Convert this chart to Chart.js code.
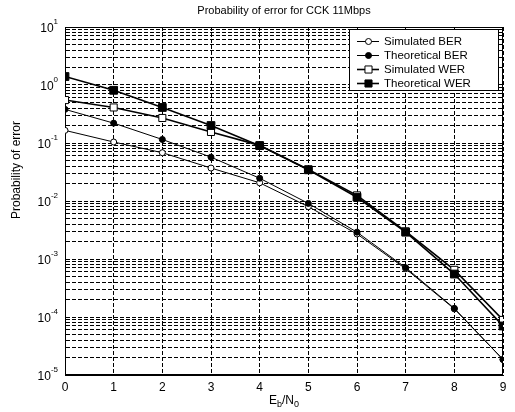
<!DOCTYPE html>
<html><head><meta charset="utf-8">
<script src="https://cdn.jsdelivr.net/npm/chart.js@4.4.0/dist/chart.umd.min.js"></script>
<style>html,body{margin:0;padding:0;background:#fff}canvas{display:block}</style>
</head><body>
<canvas id="c" width="515" height="412" style="width:515px;height:412px"></canvas>
<script>
// ---- data ----
const ebn0 = [0, 1, 2, 3, 4, 5, 6, 7, 8, 9];
const simBER  = [0.165, 0.104, 0.068, 0.037, 0.0206, 0.0080, 0.0027, 0.00068, 0.000138, 0.0000185];
const theoBER = [0.38, 0.22, 0.115, 0.057, 0.0247, 0.0091, 0.0029, 0.00071, 0.000141, 0.0000185];
const simWER  = [0.55, 0.41, 0.27, 0.155, 0.091, 0.035, 0.0125, 0.0030, 0.00065, 0.000089];
const theoWER = [1.4, 0.81, 0.41, 0.20, 0.090, 0.0345, 0.0116, 0.0029, 0.00055, 0.000070];
const seriesNames = ['Simulated BER', 'Theoretical BER', 'Simulated WER', 'Theoretical WER'];
const xTickValues = [0, 1, 2, 3, 4, 5, 6, 7, 8, 9];
const yDecadeExps = [-5, -4, -3, -2, -1, 0, 1];
const titleText = 'Probability of error for CCK 11Mbps';
const yTitleText = 'Probability of error';

const FONT = "'Liberation Sans', Arial, Helvetica, sans-serif";

function pts(ys) { return ebn0.map((x, i) => ({ x: x, y: ys[i] })); }

function makeDs(label, ys, style, filled, radius, width, order) {
  return {
    label: label, data: pts(ys), borderColor: '#000', borderWidth: width,
    pointStyle: style, pointRadius: radius, pointBorderColor: '#000', pointBorderWidth: 1,
    pointBackgroundColor: filled ? '#000' : '#fff', fill: false, tension: 0, order: order
  };
}
const datasets = [
  makeDs(seriesNames[0], simBER, 'circle', false, 3, 1, 3),
  makeDs(seriesNames[1], theoBER, 'circle', true, 3, 1, 2),
  makeDs(seriesNames[2], simWER, 'rect', false, 5, 1.6, 1),
  makeDs(seriesNames[3], theoWER, 'rect', true, 5.5, 1.6, 0)
];

function logTicks() {
  const t = [];
  for (let e = -5; e < 1; e++) for (let m = 1; m <= 9; m++) t.push({ value: m * Math.pow(10, e) });
  t.push({ value: 10 });
  return t;
}

const decor = {
  id: 'decor',
  beforeDatasetsDraw(chart) {
    const { ctx, chartArea: a } = chart;
    ctx.save();
    ctx.strokeStyle = '#000'; ctx.lineWidth = 1; ctx.setLineDash([]);
    ctx.strokeRect(Math.round(a.left) + 0.5, Math.round(a.top) + 0.5,
      Math.round(a.right - a.left) - 1, Math.round(a.bottom - a.top) - 1);
    ctx.restore();
  },
  afterDraw(chart) {
    const { ctx, chartArea: a } = chart;
    const ys = chart.scales.y;
    ctx.save();
    ctx.fillStyle = '#000';
    // title
    ctx.font = '11px ' + FONT; ctx.textAlign = 'center'; ctx.textBaseline = 'middle';
    ctx.fillText(titleText, (a.left + a.right) / 2, 11);
    // y tick labels 10^n
    yDecadeExps.forEach(e => {
      const y = ys.getPixelForValue(Math.pow(10, e));
      const base = '10', sup = String(e);
      ctx.font = '12px ' + FONT; const w1 = ctx.measureText(base).width;
      ctx.font = '8px ' + FONT; const w2 = ctx.measureText(sup).width;
      const right = a.left - 7;
      ctx.textAlign = 'left'; ctx.textBaseline = 'middle';
      ctx.font = '12px ' + FONT; ctx.fillText(base, right - w1 - w2, y + 2);
      ctx.font = '8px ' + FONT; ctx.fillText(sup, right - w2, y - 5);
    });
    // y title
    ctx.save();
    ctx.translate(17, 170); ctx.rotate(-Math.PI / 2);
    ctx.font = '12px ' + FONT; ctx.textAlign = 'center'; ctx.textBaseline = 'middle';
    ctx.fillText(yTitleText, 0, 0);
    ctx.restore();
    // x title E_b/N_0
    const parts = [['E', 12, 0], ['b', 9, 3], ['/N', 12, 0], ['0', 9, 3]];
    let tot = 0;
    parts.forEach(p => { ctx.font = p[1] + 'px ' + FONT; tot += ctx.measureText(p[0]).width; });
    let x = (a.left + a.right) / 2 - tot / 2;
    ctx.textAlign = 'left'; ctx.textBaseline = 'alphabetic';
    parts.forEach(p => { ctx.font = p[1] + 'px ' + FONT; ctx.fillText(p[0], x, 404 + p[2]); x += ctx.measureText(p[0]).width; });
    // legend
    const L = 349, T = 29, R = 499, B = 91;
    ctx.fillStyle = '#fff'; ctx.fillRect(L, T, R - L, B - T);
    ctx.strokeStyle = '#000'; ctx.lineWidth = 1; ctx.setLineDash([]);
    ctx.strokeRect(L + 0.5, T + 0.5, R - L - 1, B - T - 1);
    chart.data.datasets.forEach((ds, i) => {
      const yy = 41.5 + i * 14;
      ctx.strokeStyle = '#000'; ctx.lineWidth = ds.borderWidth;
      ctx.beginPath(); ctx.moveTo(357, yy); ctx.lineTo(379, yy); ctx.stroke();
      ctx.lineWidth = 1;
      ctx.fillStyle = ds.pointBackgroundColor; ctx.strokeStyle = '#000';
      const r = ds.pointStyle === 'rect' ? 5 : 3;
      Chart.helpers.drawPoint(ctx, { pointStyle: ds.pointStyle, radius: r, rotation: 0, borderWidth: 1 }, 368.5, yy);
      ctx.fillStyle = '#000';
      ctx.font = '11.5px ' + FONT; ctx.textAlign = 'left'; ctx.textBaseline = 'middle';
      ctx.fillText(ds.label, 384, yy + 0.5);
    });
    ctx.restore();
  }
};

new Chart(document.getElementById('c'), {
  type: 'line',
  data: { datasets: datasets },
  options: {
    responsive: false, animation: false, devicePixelRatio: 1,
    layout: { padding: { top: 27, right: 12, left: 0, bottom: 0 } },
    plugins: { legend: { display: false }, title: { display: false }, tooltip: { enabled: false } },
    elements: { line: { tension: 0 } },
    scales: {
      x: {
        type: 'linear', min: 0, max: 9,
        afterBuildTicks: s => { s.ticks = xTickValues.map(v => ({ value: v })); },
        afterFit: s => { s.height = 37; },
        ticks: { font: { family: FONT, size: 12 }, color: '#000', padding: 5, maxRotation: 0, autoSkip: false, callback: v => String(v) },
        grid: { color: '#000', lineWidth: 1, drawTicks: false },
        border: { display: true, color: '#000', width: 1, dash: [4, 2] }
      },
      y: {
        type: 'logarithmic', min: 1e-5, max: 10,
        afterBuildTicks: s => { s.ticks = logTicks(); },
        afterFit: s => { s.width = 65; },
        ticks: { display: false },
        grid: { color: '#000', lineWidth: 1, drawTicks: false },
        border: { display: true, color: '#000', width: 1, dash: [4, 2] }
      }
    }
  },
  plugins: [decor]
});
</script>
</body></html>
